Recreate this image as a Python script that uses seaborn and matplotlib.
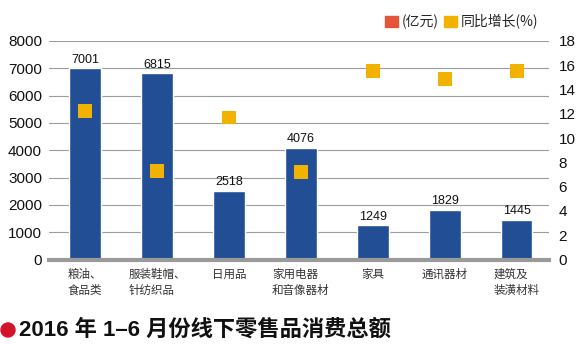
import numpy as np
import pandas as pd
import matplotlib
matplotlib.use("Agg")
import matplotlib.pyplot as plt
import seaborn as sns
from matplotlib.patches import Patch, Ellipse

# ---- data ----
categories = ["粮油、\n食品类", "服装鞋帽、\n针纺织品", "日用品", "家用电器\n和音像器材",
              "家具", "通讯器材", "建筑及\n装潢材料"]
sales = [7001, 6815, 2518, 4076, 1249, 1829, 1445]          # 亿元
growth = [12.2, 7.3, 11.7, 7.2, 15.5, 14.9, 15.5]           # 同比增长 %
left_ticks = [0, 1000, 2000, 3000, 4000, 5000, 6000, 7000, 8000]
right_ticks = [0, 2, 4, 6, 8, 10, 12, 14, 16, 18]
legend_labels = ["(亿元)", "同比增长(%)"]
title = "2016 年 1–6 月份线下零售品消费总额"

BAR = "#214E94"
SQ = "#F2B200"
LEG_RED = "#E4553A"
CJK = ["Noto Sans CJK SC", "DejaVu Sans"]
LAT = ["Liberation Sans", "Noto Sans CJK SC", "DejaVu Sans"]

sns.set_theme(style="white")
plt.rcParams["font.family"] = LAT

fig = plt.figure(figsize=(5.82, 3.44), dpi=100)
ax = fig.add_axes([49 / 582, 1 - 259.5 / 344, 500 / 582, 218.5 / 344])

df = pd.DataFrame({"cat": categories, "sales": sales, "growth": growth})
sns.barplot(data=df, x="cat", y="sales", color=BAR, saturation=1, width=0.44,
            ax=ax, zorder=3)
ax.set_xlabel("")
ax.set_ylabel("")
ax.set_ylim(0, 8000)
ax.set_xlim(-0.5, 6.45)
ax.set_yticks(left_ticks)
ax.yaxis.grid(True, color="#9c9c9c", lw=0.8)
ax.xaxis.grid(False)
ax.set_axisbelow(True)
for s in ["left", "right", "top"]:
    ax.spines[s].set_visible(False)
ax.spines["bottom"].set_color("#9a9a9a")
ax.spines["bottom"].set_linewidth(3)
ax.spines["bottom"].set_zorder(4)
ax.tick_params(axis="y", length=0, pad=5, labelsize=11, labelcolor="#111111")
ax.tick_params(axis="x", length=0, pad=6)
for t in ax.get_xticklabels():
    t.set_fontfamily(CJK)
    t.set_fontsize(8.3)
    t.set_color("#333333")
    t.set_multialignment("left")
    t.set_linespacing(1.3)

ax.bar_label(ax.containers[0], padding=2, fontsize=9, color="#111111")

ax2 = ax.twinx()
sns.scatterplot(x=np.arange(len(growth)), y=growth, marker="s", s=100, color=SQ,
                edgecolor="none", linewidth=0, ax=ax2, zorder=5)
ax2.set_ylim(0, 18)
ax2.set_yticks(right_ticks)
ax2.set_xlabel("")
ax2.set_ylabel("")
ax2.grid(False)
for s in ["left", "right", "top", "bottom"]:
    ax2.spines[s].set_visible(False)
ax2.tick_params(axis="y", length=0, pad=7, labelsize=11, labelcolor="#111111")

handles = [Patch(color=LEG_RED, label=legend_labels[0]),
           Patch(color=SQ, label=legend_labels[1])]
fig.legend(handles=handles, loc="upper right", bbox_to_anchor=(551 / 582, 1 - 2 / 344),
           ncol=2, frameon=False, prop={"family": CJK, "size": 10},
           handlelength=0.9, handleheight=0.9, handletextpad=0.3, columnspacing=0.4)

fig.add_artist(Ellipse((8 / 582, 1 - 330 / 344), 14 / 582, 14 / 344,
                       transform=fig.transFigure, color="#D3122B"))
fig.text(19 / 582, 1 - 330 / 344, title, fontsize=16, fontweight="bold",
         va="center", ha="left", family=LAT, color="#111111")

fig.savefig("out.png", dpi=100)
